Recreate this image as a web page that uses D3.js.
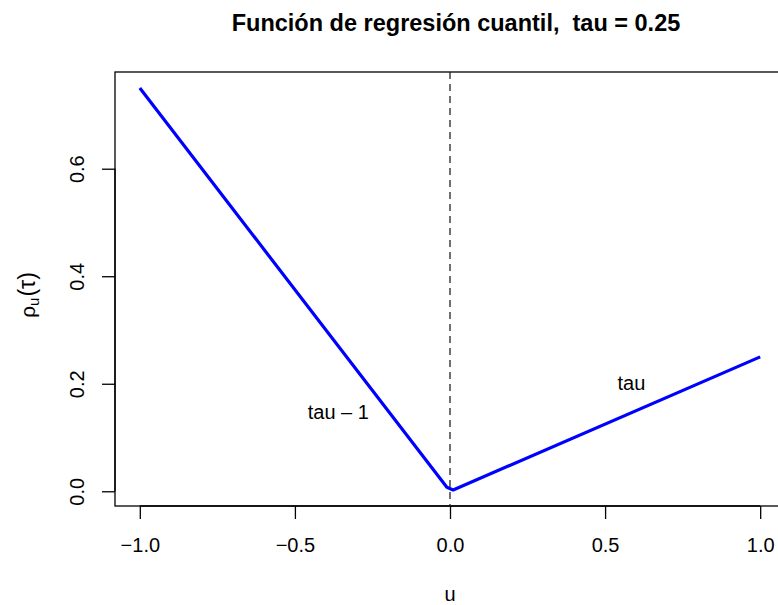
<!DOCTYPE html>
<html>
<head>
<meta charset="utf-8">
<script src="https://cdn.jsdelivr.net/npm/d3@7"></script>
<style>
  html, body { margin: 0; padding: 0; background: #fff; }
  svg { display: block; font-family: "Liberation Sans", Arial, Helvetica, sans-serif; }
</style>
</head>
<body>
<svg id="chart" width="778" height="605"></svg>
<script>
// Check function rho_tau(u) for quantile regression, tau = 0.25
const tau = 0.25;
const uVals   = [-1, -0.0101, 0.0101, 1];
const rhoVals = [0.75, 0.0076, 0.0025, 0.25];

const xTicks = [-1, -0.5, 0, 0.5, 1];
const yTicks = [0, 0.2, 0.4, 0.6];

// slope annotations: text, u, rho
const noteText = ["tau \u2013 1", "tau"];
const noteU    = [-0.36, 0.585];
const noteRho  = [0.148, 0.201];

const titleText = "Función de regresión cuantil,  tau = " + tau;

const svg = d3.select("#chart");
const plot = { left: 115, right: 785, top: 72, bottom: 506 };

// pad the data range by 4% on each side
function padded(ext) {
  const d = (ext[1] - ext[0]) * 0.04;
  return [ext[0] - d, ext[1] + d];
}

const x = d3.scaleLinear().domain(padded(d3.extent(uVals))).range([plot.left, plot.right]);
const y = d3.scaleLinear().domain(padded(d3.extent(rhoVals))).range([plot.bottom, plot.top]);

const fmt = d3.format(".1f");

// box around the plotting region
svg.append("rect")
  .attr("x", plot.left).attr("y", plot.top)
  .attr("width", plot.right - plot.left).attr("height", plot.bottom - plot.top)
  .attr("fill", "none").attr("stroke", "#000").attr("stroke-width", 1.3);

// x axis
const xAxis = svg.append("g")
  .attr("transform", `translate(0,${plot.bottom})`)
  .call(d3.axisBottom(x).tickValues(xTicks).tickFormat(fmt).tickSize(13).tickPadding(0));
xAxis.select(".domain").attr("d", `M${x(xTicks[0])},0H${x(xTicks[xTicks.length - 1])}`)
  .attr("stroke", "#000").attr("stroke-width", 1.3);
xAxis.selectAll(".tick line").attr("stroke", "#000").attr("stroke-width", 1.3);
xAxis.selectAll(".tick text")
  .attr("y", 46).attr("dy", null)
  .attr("font-size", 20).attr("fill", "#000")
  .attr("font-family", "'Liberation Sans', Arial, sans-serif");

// y axis
const yAxis = svg.append("g")
  .attr("transform", `translate(${plot.left},0)`)
  .call(d3.axisLeft(y).tickValues(yTicks).tickFormat(fmt).tickSize(13).tickPadding(0));
yAxis.select(".domain").attr("d", `M0,${y(yTicks[0])}V${y(yTicks[yTicks.length - 1])}`)
  .attr("stroke", "#000").attr("stroke-width", 1.3);
yAxis.selectAll(".tick line").attr("stroke", "#000").attr("stroke-width", 1.3);
yAxis.selectAll(".tick text")
  .attr("x", null).attr("dy", null)
  .attr("text-anchor", "middle")
  .attr("transform", "translate(-31,0) rotate(-90)")
  .attr("font-size", 20).attr("fill", "#000")
  .attr("font-family", "'Liberation Sans', Arial, sans-serif");

// vertical reference line at u = 0
svg.append("line")
  .attr("x1", x(0)).attr("x2", x(0))
  .attr("y1", plot.top).attr("y2", plot.bottom)
  .attr("stroke", "#222").attr("stroke-width", 1.3)
  .attr("stroke-dasharray", "7,5");

// rho curve
const line = d3.line().x((d, i) => x(uVals[i])).y(d => y(d));
svg.append("path")
  .datum(rhoVals)
  .attr("d", line)
  .attr("fill", "none")
  .attr("stroke", "#0000ff")
  .attr("stroke-width", 3.2)
  .attr("stroke-linejoin", "round");

// slope labels
svg.selectAll("text.note")
  .data(noteText)
  .join("text")
  .attr("class", "note")
  .attr("x", (d, i) => x(noteU[i]))
  .attr("y", (d, i) => y(noteRho[i]))
  .attr("dy", "0.35em")
  .attr("text-anchor", "middle")
  .attr("font-size", 20)
  .attr("fill", "#000")
  .text(d => d);

// title (keeps the double space)
svg.append("text")
  .attr("x", 456)
  .attr("y", 31)
  .attr("text-anchor", "middle")
  .attr("font-size", 23.5)
  .attr("font-weight", "bold")
  .attr("fill", "#000")
  .style("white-space", "pre")
  .attr("xml:space", "preserve")
  .text(titleText);

// x label
svg.append("text")
  .attr("x", (plot.left + plot.right) / 2)
  .attr("y", 601)
  .attr("text-anchor", "middle")
  .attr("font-size", 20)
  .attr("fill", "#000")
  .text("u");

// y label: rho with subscript u, of tau
const yLab = svg.append("text")
  .attr("transform", `translate(35,295) rotate(-90)`)
  .attr("text-anchor", "middle")
  .attr("font-size", 21)
  .attr("fill", "#000");
yLab.append("tspan").text("ρ");
yLab.append("tspan").attr("font-size", 15).attr("dy", 4).text("u");
yLab.append("tspan").attr("dy", -4).attr("dx", 1).attr("font-size", 23).text("(τ)");
</script>
</body>
</html>
